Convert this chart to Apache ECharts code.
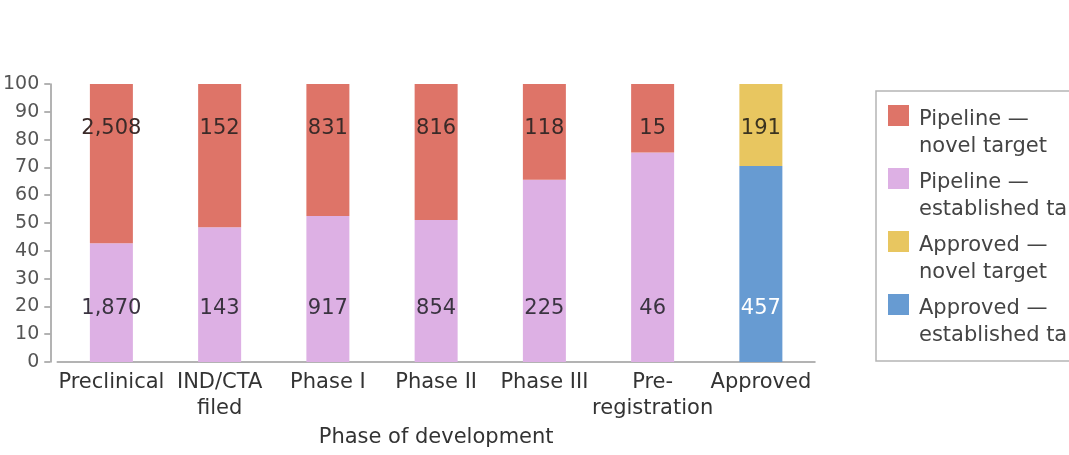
<!DOCTYPE html>
<html>
<head>
<meta charset="utf-8">
<script src="https://cdn.jsdelivr.net/npm/echarts@6/dist/echarts.min.js"></script>
<style>
html,body{margin:0;padding:0;background:#fff;}
#c{width:1069px;height:455px;}
</style>
</head>
<body>
<div id="c"></div>
<script>
const categories = ['Preclinical', 'IND/CTA\nfiled', 'Phase I', 'Phase II', 'Phase III', 'Pre-\nregistration', 'Approved'];
// percentages
const pipelineEstablished = [42.7, 48.5, 52.5, 51.1, 65.6, 75.4, null];
const pipelineNovel = [57.3, 51.5, 47.5, 48.9, 34.4, 24.6, null];
const approvedEstablished = [null, null, null, null, null, null, 70.5];
const approvedNovel = [null, null, null, null, null, null, 29.5];
// counts printed on the bars
const pipelineEstablishedCounts = ['1,870', '143', '917', '854', '225', '46', ''];
const pipelineNovelCounts = ['2,508', '152', '831', '816', '118', '15', ''];
const approvedEstablishedCounts = ['', '', '', '', '', '', '457'];
const approvedNovelCounts = ['', '', '', '', '', '', '191'];
const yTicks = [0, 10, 20, 30, 40, 50, 60, 70, 80, 90, 100];

const FONT = 'DejaVu Sans';
const legendIcon = 'path://M0,0H21V21H0Z M0,55.99h0.01v0.01h-0.01Z';

function mkSeries(name, data, counts, color, pos, dist, labelColor) {
  return {
    name: name,
    type: 'bar',
    stack: 'total',
    data: data,
    barWidth: 43,
    itemStyle: { color: color },
    emphasis: { disabled: true },
    label: {
      show: true,
      position: pos,
      distance: dist,
      fontFamily: FONT,
      fontSize: 21,
      color: labelColor,
      formatter: function (p) { return counts[p.dataIndex]; }
    }
  };
}

const chart = echarts.init(document.getElementById('c'), null, { renderer: 'canvas' });
chart.setOption({
  animation: false,
  backgroundColor: '#fff',
  textStyle: { fontFamily: FONT },
  grid: { left: 57, right: 254, top: 84, bottom: 93, containLabel: false },
  legend: {
    left: 876,
    top: 91,
    orient: 'vertical',
    data: ['Pipeline —\nnovel target', 'Pipeline —\nestablished target', 'Approved —\nnovel target', 'Approved —\nestablished target'],
    icon: legendIcon,
    itemWidth: 21,
    itemHeight: 56,
    itemGap: 7,
    padding: [14, 20, 11, 12],
    borderColor: '#b5b5b5',
    borderWidth: 1.5,
    borderRadius: 0,
    selectedMode: false,
    textStyle: { fontFamily: FONT, fontSize: 21, color: '#444', lineHeight: 27, padding: [0, 0, 0, 5] }
  },
  xAxis: {
    type: 'category',
    data: categories,
    name: 'Phase of development',
    nameLocation: 'middle',
    nameGap: 62,
    nameTextStyle: { fontFamily: FONT, fontSize: 21, color: '#333' },
    axisLine: { lineStyle: { color: '#9a9a9a', width: 1.5 } },
    axisTick: { show: false },
    axisLabel: { fontFamily: FONT, fontSize: 21, color: '#333', lineHeight: 26, margin: 8, interval: 0 }
  },
  yAxis: {
    type: 'value',
    min: 0,
    max: 100,
    interval: 10,
    offset: 7,
    splitLine: { show: false },
    axisLine: { show: true, lineStyle: { color: '#9a9a9a', width: 1.5 } },
    axisTick: { show: true, length: 6, lineStyle: { color: '#9a9a9a', width: 1.5 } },
    axisLabel: {
      fontFamily: FONT, fontSize: 19, color: '#555', margin: 11,
      formatter: function (v) { return yTicks.indexOf(v) >= 0 ? String(v) : ''; }
    }
  },
  series: [
    mkSeries('Pipeline —\nestablished target', pipelineEstablished, pipelineEstablishedCounts, '#DDB0E4', 'insideBottom', 43, '#3a3340'),
    mkSeries('Pipeline —\nnovel target', pipelineNovel, pipelineNovelCounts, '#DE7468', 'insideTop', 34, '#3a2a28'),
    mkSeries('Approved —\nestablished target', approvedEstablished, approvedEstablishedCounts, '#679BD2', 'insideBottom', 43, '#ffffff'),
    mkSeries('Approved —\nnovel target', approvedNovel, approvedNovelCounts, '#E8C660', 'insideTop', 34, '#3a3320')
  ]
});
</script>
</body>
</html>
